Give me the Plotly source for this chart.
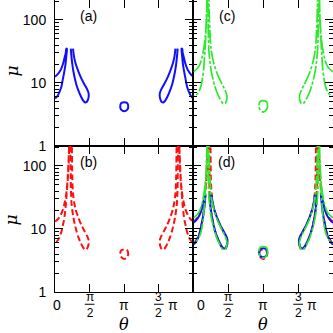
import plotly.graph_objects as go

# ---------------- data (theta in units of pi, mu) ----------------
# blue (a): wedge near theta=0 (upper branch up, then lower branch down)
blue_wedge_L_th = [0.0, 0.02, 0.043, 0.07, 0.092, 0.115, 0.13, 0.145, 0.155, 0.163,
                   0.172, 0.165, 0.152, 0.13, 0.11, 0.092, 0.065, 0.043, 0.02, 0.0]
blue_wedge_R_th = [2.0, 1.98, 1.957, 1.93, 1.908, 1.885, 1.87, 1.855, 1.845, 1.837,
                   1.828, 1.835, 1.848, 1.87, 1.89, 1.908, 1.935, 1.957, 1.98, 2.0]
blue_wedge_mu = [12.6, 13.1, 13.9, 15.3, 17.1, 20.0, 23.2, 27.0, 29.6, 35.0,
                 35.0, 28.0, 20.0, 14.3, 11.0, 8.7, 7.2, 6.4, 5.95, 5.7]
blue_tongue_L_th = [0.228, 0.238, 0.25, 0.265, 0.285, 0.31, 0.34, 0.375, 0.405, 0.43, 0.455,
                    0.475, 0.487, 0.485, 0.465, 0.43, 0.385, 0.34, 0.30, 0.275, 0.26]
blue_tongue_R_th = [1.772, 1.762, 1.75, 1.735, 1.715, 1.69, 1.66, 1.625, 1.595, 1.57, 1.545,
                    1.525, 1.513, 1.515, 1.535, 1.57, 1.615, 1.66, 1.70, 1.725, 1.74]
blue_tongue_mu = [35.0, 26.0, 20.0, 15.5, 12.0, 9.3, 7.5, 6.1, 5.3, 4.95, 4.95,
                  5.4, 6.1, 6.9, 7.9, 9.3, 11.5, 15.0, 20.0, 26.0, 35.0]
blue_ring_th = [1.0, 1.042, 1.058, 1.044, 1.0, 0.956, 0.942, 0.958, 1.0]
blue_ring_mu = [4.95, 4.8, 4.25, 3.78, 3.55, 3.78, 4.25, 4.8, 4.95]

# red (b)
red_wedge_L_th = [0.0, 0.02, 0.043, 0.07, 0.092, 0.115, 0.13, 0.145, 0.158, 0.172, 0.183, 0.192, 0.2, 0.205, 0.208,
                  0.212, 0.208, 0.203, 0.196, 0.187, 0.176, 0.166, 0.155, 0.14, 0.125, 0.11, 0.092, 0.065, 0.043, 0.02, 0.0]
red_wedge_R_th = [2.0, 1.98, 1.957, 1.93, 1.908, 1.885, 1.87, 1.855, 1.842, 1.828, 1.817, 1.808, 1.8, 1.795, 1.792,
                  1.788, 1.792, 1.797, 1.804, 1.813, 1.824, 1.834, 1.845, 1.86, 1.875, 1.89, 1.908, 1.935, 1.957, 1.98, 2.0]
red_wedge_mu = [13.2, 13.6, 14.4, 15.8, 17.6, 20.5, 23.5, 27.5, 33.0, 45.0, 65.0, 100.0, 160.0, 250.0, 400.0,
                400.0, 250.0, 160.0, 100.0, 65.0, 45.0, 33.0, 23.0, 16.5, 13.0, 11.0, 9.0, 7.4, 6.7, 6.25, 6.0]
red_tongue_L_th = [0.222, 0.223, 0.224, 0.225, 0.227, 0.229, 0.233, 0.238, 0.25, 0.265, 0.285, 0.31, 0.34, 0.375,
                   0.405, 0.43, 0.455, 0.475, 0.487, 0.485, 0.465, 0.43, 0.385, 0.34, 0.30, 0.275, 0.262,
                   0.255, 0.25, 0.247, 0.245, 0.244, 0.243]
red_tongue_R_th = [1.778, 1.777, 1.776, 1.775, 1.773, 1.771, 1.767, 1.762, 1.75, 1.735, 1.715, 1.69, 1.66, 1.625,
                   1.595, 1.57, 1.545, 1.525, 1.513, 1.515, 1.535, 1.57, 1.615, 1.66, 1.70, 1.725, 1.738,
                   1.745, 1.75, 1.753, 1.755, 1.756, 1.757]
red_tongue_mu = [400.0, 250.0, 160.0, 100.0, 65.0, 45.0, 35.0, 26.0, 20.0, 15.5, 12.0, 9.3, 7.3, 5.9,
                 5.1, 4.75, 4.75, 5.2, 5.9, 6.7, 7.7, 9.1, 11.3, 14.8, 20.0, 27.0, 35.0,
                 45.0, 65.0, 100.0, 160.0, 250.0, 400.0]
red_ring_th = [1.0, 1.042, 1.058, 1.044, 1.0, 0.956, 0.942, 0.958, 1.0]
red_ring_mu = [4.75, 4.6, 4.05, 3.6, 3.34, 3.6, 4.05, 4.6, 4.75]

# green (c)
green_wedge_L_th = [0.0, 0.02, 0.045, 0.07, 0.089, 0.11, 0.125, 0.136, 0.15, 0.16, 0.169, 0.177, 0.184, 0.19, 0.194, 0.197,
                    0.201, 0.198, 0.194, 0.188, 0.182, 0.174, 0.167, 0.158, 0.146, 0.13, 0.112, 0.09, 0.065, 0.035, 0.0]
green_wedge_R_th = [2.0, 1.98, 1.955, 1.93, 1.911, 1.89, 1.875, 1.864, 1.85, 1.84, 1.831, 1.823, 1.816, 1.81, 1.806, 1.803,
                    1.799, 1.802, 1.806, 1.812, 1.818, 1.826, 1.833, 1.842, 1.854, 1.87, 1.888, 1.91, 1.935, 1.965, 2.0]
green_wedge_mu = [15.1, 15.6, 16.5, 17.8, 19.3, 22.5, 26.0, 29.6, 36.0, 44.0, 54.0, 70.0, 100.0, 150.0, 250.0, 400.0,
                  400.0, 250.0, 150.0, 100.0, 70.0, 50.0, 35.0, 25.0, 16.1, 12.0, 9.3, 7.8, 6.9, 6.4, 6.1]
green_tongue_L_th = [0.207, 0.208, 0.209, 0.21, 0.212, 0.215, 0.22, 0.228, 0.24, 0.257, 0.28, 0.305, 0.335, 0.37,
                     0.4, 0.43, 0.455, 0.472, 0.48, 0.475, 0.455, 0.42, 0.38, 0.335, 0.295, 0.268, 0.252,
                     0.242, 0.235, 0.229, 0.224, 0.221, 0.219]
green_tongue_R_th = [1.793, 1.792, 1.791, 1.79, 1.788, 1.785, 1.78, 1.772, 1.76, 1.743, 1.72, 1.695, 1.665, 1.63,
                     1.6, 1.57, 1.545, 1.528, 1.52, 1.525, 1.545, 1.58, 1.62, 1.665, 1.705, 1.732, 1.748,
                     1.758, 1.765, 1.771, 1.776, 1.779, 1.781]
green_tongue_mu = [400.0, 250.0, 150.0, 100.0, 70.0, 50.0, 35.0, 27.0, 20.0, 15.0, 11.5, 9.0, 7.2, 5.9,
                   5.1, 4.7, 4.75, 5.2, 5.9, 6.6, 7.6, 9.1, 11.2, 14.5, 20.0, 27.0, 35.0,
                   50.0, 70.0, 100.0, 150.0, 250.0, 400.0]
green_ring_th = [1.0, 1.046, 1.062, 1.048, 1.0, 0.952, 0.938, 0.954, 1.0]
green_ring_mu = [5.25, 5.05, 4.35, 3.8, 3.45, 3.8, 4.35, 5.05, 5.25]

# axis ticks / labels
x_tick_vals = [0, 0.5, 1, 1.5]
y_tick_vals = [1, 10, 100]
y_tick_text = ["1", "10", "100"]
panel_labels = ["(a)", "(c)", "(b)", "(d)"]

# ---------------- figure ----------------
BLUE = "#1010ff"
RED = "#ff1010"
GREEN = "#2ee82e"
styles = {
    "blue": dict(color=BLUE, width=2, dash="solid"),
    "red": dict(color=RED, width=2, dash="6px,3px"),
    "green": dict(color=GREEN, width=1.7, dash="14px,2px,3px,2px"),
}
series = {
    "blue": [(blue_wedge_L_th, blue_wedge_mu), (blue_wedge_R_th, blue_wedge_mu),
             (blue_tongue_L_th, blue_tongue_mu), (blue_tongue_R_th, blue_tongue_mu),
             (blue_ring_th, blue_ring_mu)],
    "red": [(red_wedge_L_th, red_wedge_mu), (red_wedge_R_th, red_wedge_mu),
            (red_tongue_L_th, red_tongue_mu), (red_tongue_R_th, red_tongue_mu),
            (red_ring_th, red_ring_mu)],
    "green": [(green_wedge_L_th, green_wedge_mu), (green_wedge_R_th, green_wedge_mu),
              (green_tongue_L_th, green_tongue_mu), (green_tongue_R_th, green_tongue_mu),
              (green_ring_th, green_ring_mu)],
}
# panel -> (xaxis, yaxis, list of colours)
panels = [("x", "y", ["blue"]), ("x2", "y2", ["green"]),
          ("x3", "y3", ["red"]), ("x4", "y4", ["red", "blue", "green"])]

fig = go.Figure()
for xa, ya, cols in panels:
    for c in cols:
        for th, mu in series[c]:
            fig.add_trace(go.Scatter(x=th, y=mu, mode="lines", xaxis=xa, yaxis=ya,
                                     line=dict(shape="spline", smoothing=0.8, **styles[c]),
                                     showlegend=False, hoverinfo="skip"))

FONT = "Liberation Sans, Arial, sans-serif"
XSPLIT = 0.498
common_x = dict(range=[0, 2], tickvals=x_tick_vals, showticklabels=False, ticks="inside",
                ticklen=8, tickcolor="black", showline=True, linecolor="black", linewidth=1,
                mirror="ticks", showgrid=False, zeroline=False, automargin=False)
common_y = dict(type="log", range=[0, 2.317], tickvals=y_tick_vals, ticktext=y_tick_text,
                ticks="inside", ticklen=8, tickcolor="black", showline=True, linecolor="black",
                linewidth=1, mirror="ticks", showgrid=False, zeroline=False, automargin=False,
                minor=dict(ticks="inside", ticklen=4, tickcolor="black", dtick="D1", showgrid=False),
                tickfont=dict(size=14, color="black", family=FONT), ticklabelstandoff=5)

fig.update_layout(
    template="none",
    width=333, height=333, margin=dict(l=55, r=0, t=0, b=41, pad=0),
    paper_bgcolor="white", plot_bgcolor="white", showlegend=False,
    xaxis=dict(domain=[0, XSPLIT], anchor="y", **common_x),
    xaxis2=dict(domain=[XSPLIT, 1], anchor="y2", **common_x),
    xaxis3=dict(domain=[0, XSPLIT], anchor="y3", **common_x),
    xaxis4=dict(domain=[XSPLIT, 1], anchor="y4", **common_x),
    yaxis=dict(domain=[0.5, 1], anchor="x", **common_y),
    yaxis2=dict(domain=[0.5, 1], anchor="x2", **{**common_y, "showticklabels": False}),
    yaxis3=dict(domain=[0, 0.5], anchor="x3", **common_y),
    yaxis4=dict(domain=[0, 0.5], anchor="x4", **{**common_y, "showticklabels": False}),
)

ann = []
# panel labels
for (xa, ya, _), lab in zip(panels, panel_labels):
    ann.append(dict(text=lab, xref=xa + " domain", yref=ya + " domain", x=0.24, y=0.89,
                    showarrow=False, font=dict(size=14, family=FONT, color="black"),
                    xanchor="center", yanchor="middle"))
# mu labels
for yc in [0.755, 0.245]:
    ann.append(dict(text="<i>μ</i>", xref="paper", yref="paper", x=-0.158, y=yc, textangle=-90,
                    showarrow=False, font=dict(size=17, family="DejaVu Serif", color="black"),
                    xanchor="center", yanchor="middle"))
# x tick labels (stacked fractions) + theta
tf = dict(size=14, family=FONT, color="black")
ff = dict(size=12, family=FONT, color="black")
shapes = []
for xa, zero_x in [("x3", 0.03), ("x4", 0.11)]:
    for t, xv, yv, f in [("0", zero_x, -0.0445, tf), ("π<br>2", 0.5, -0.043, ff),
                         ("π", 1.0, -0.0445, tf), ("3<br>2", 1.5, -0.043, ff), ("π", 1.7, -0.0445, tf)]:
        ann.append(dict(text=t, xref=xa, yref="paper", x=xv, y=yv, showarrow=False, font=f,
                        xanchor="center", yanchor="middle"))
    ann.append(dict(text="<i>θ</i>", xref=xa, yref="paper", x=1.0, y=-0.11, showarrow=False,
                    font=dict(size=16, family="DejaVu Serif", color="black"),
                    xanchor="center", yanchor="middle"))
    for xv in [0.5, 1.5]:
        shapes.append(dict(type="line", xref=xa, yref="paper", x0=xv - 0.07, x1=xv + 0.07,
                           y0=-0.042, y1=-0.042, line=dict(color="black", width=1)))
fig.update_layout(annotations=ann, shapes=shapes)

fig.write_html("out.html", config={"displayModeBar": False},
               post_script="document.body.style.margin='0';document.body.style.overflow='hidden';")
